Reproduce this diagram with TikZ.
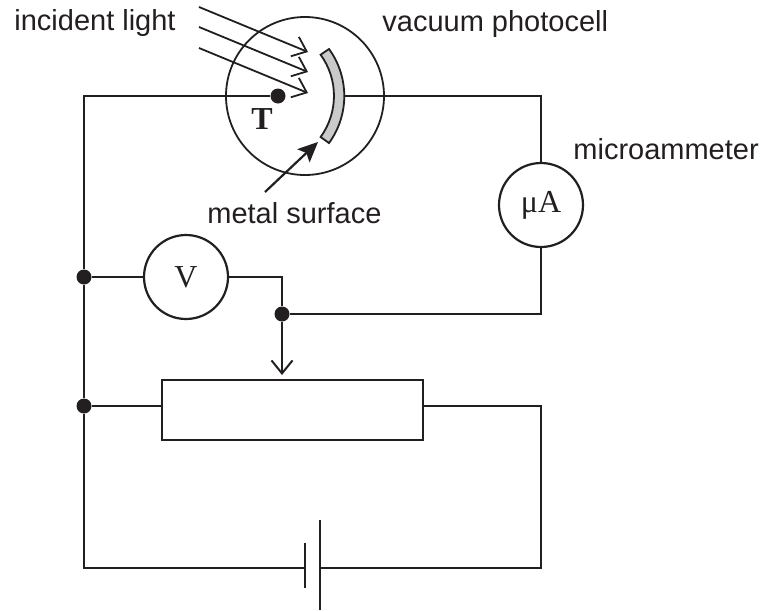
\documentclass[tikz,border=0pt]{standalone}
\usepackage{fontspec}
\setmainfont{Liberation Sans}
\newfontfamily\serifface{Liberation Serif}
\usetikzlibrary{arrows.meta, positioning}
\definecolor{inkblack}{HTML}{231F20}
\definecolor{plategrey}{HTML}{C8CACB}

\begin{document}
\begin{tikzpicture}[
    x=0.5pt, y=-0.5pt,
    color=inkblack,
    wire/.style={line width=1pt},
    meter/.style={circle, draw, line width=1.1pt, fill=white, inner sep=0pt, minimum size=42pt, font=\serifface\fontsize{16}{18}\selectfont},
    junction/.style={circle, fill=inkblack, inner sep=0pt, minimum size=7.5pt},
    label/.style={anchor=base west, inner sep=0pt, font=\fontsize{14.5}{18}\selectfont},
    ray/.style={line width=0.9pt, -{Straight Barb[length=6.4pt,width=10.5pt,line width=0.9pt]}},
    pointer/.style={line width=1.1pt, -{Stealth[length=10pt,width=9pt,inset=2pt]}},
    plate/.style={line width=1.3pt}
]
    \useasboundingbox (0,0) rectangle (765,611);

    % photocell
    \node[circle, draw, line width=0.9pt, inner sep=0pt, minimum size=79pt] (cell) at (305,96) {};
    \node[junction] (cathode) at (278,96) {};
    \node[anchor=center, inner sep=0pt, font=\serifface\bfseries\fontsize{16}{18}\selectfont] (tlabel) at (262,119) {T};
    \coordinate (plateback) at (344,96);
    \draw[line width=0.9pt, fill=plategrey] (329,49) arc[start angle=36, end angle=-36, radius=40pt]
        -- (320.6,137) arc[start angle=-36, end angle=36, radius=35pt] -- cycle;

    % meters and resistor
    \node[meter] (ammeter) at (541,205) {μA};
    \node[meter] (voltmeter) at (186,277) {V};
    \node[draw, line width=1pt, inner sep=0pt, minimum width=130.5pt, minimum height=30pt] (rheostat) at (292.5,410) {};

    % junctions
    \node[junction] (jv) at (84,277) {};
    \node[junction] (jr) at (84,406) {};
    \node[junction] (jslider) at (282,314) {};

    % battery plates
    \coordinate (shortplate) at (305,568);
    \coordinate (longplate) at (320,568);
    \draw[plate] (305,543) -- (305,588);
    \draw[plate] (320,520) -- (320,610);

    % wiring
    \draw[wire] (cathode) -| (jv);
    \draw[wire] (jv) -- (jr);
    \draw[wire] (jr) |- (shortplate);
    \draw[wire] (jv) -- (voltmeter);
    \draw[wire] (jr) -- (rheostat.west |- jr);
    \draw[wire] (voltmeter.east) -| (jslider);
    \draw[wire] (plateback) -- (cell.east);
    \draw[wire] (cell.east) -| (ammeter.north);
    \draw[wire] (ammeter.south) |- (jslider);
    \draw[wire] (rheostat.east |- jr) -| (541,568) -- (longplate);
    \coordinate (wiper) at (282,375);
    \draw[wire, -{Straight Barb[length=6.5pt,width=10.5pt,line width=1pt]}] (jslider) -- (wiper);

    % light rays
    \foreach \ya/\yb/\name in {7/52/a, 27/72/b, 48/93/c} {
        \coordinate (ray\name start) at (199,\ya);
        \coordinate (ray\name end) at (308,\yb);
        \draw[ray] (ray\name start) -- (ray\name end);
    }

    % text
    \node[label] (incident) at (14,30) {incident light};
    \node[label] (photocell) at (382,31) {vacuum photocell};
    \node[label] (micro) at (573,159) {microammeter};
    \node[label] (surface) at (207,223) {metal surface};
    \coordinate (surfacetip) at (318,142);
    \coordinate (surfacetail) at (265,192);
    \draw[pointer] (surfacetail) -- (surfacetip);
\end{tikzpicture}
\end{document}
